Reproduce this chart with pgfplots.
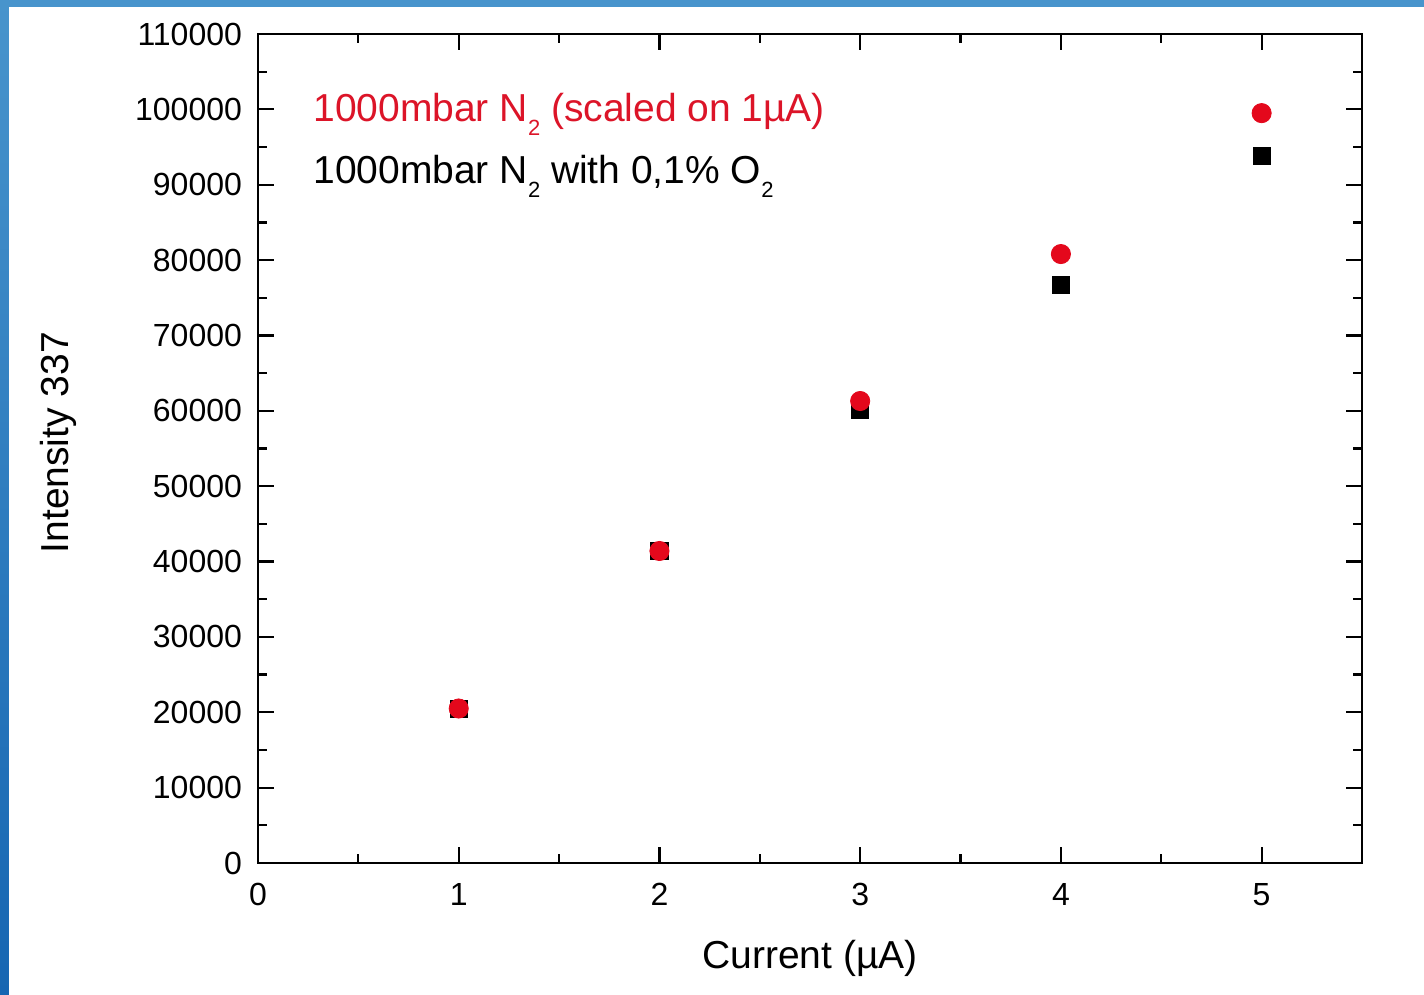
\documentclass[border=0pt]{standalone}
\usepackage{fontspec}
\setmainfont{Liberation Sans}
\usepackage{pgfplots}
\pgfplotsset{compat=1.18}

\definecolor{ptred}{RGB}{228,8,28}
\definecolor{legred}{RGB}{220,20,40}
\definecolor{frametop}{RGB}{72,148,204}
\definecolor{framebot}{RGB}{22,102,178}

\newcommand{\sub}[1]{\raisebox{-7pt}{\fontsize{11}{11}\selectfont #1}}

\begin{document}
\begin{tikzpicture}
% slide background with a blue edge on the left and top
\shade[top color=frametop, bottom color=framebot] (-129pt,-66pt) rectangle (583pt,431.5pt);
\fill[white] (-124.5pt,-66pt) rectangle (583pt,428pt);

\begin{axis}[
  at={(0,0)}, anchor=south west,
  scale only axis, width=552pt, height=414.5pt,
  xmin=0, xmax=5.5, ymin=0, ymax=110000,
  xtick={0,1,2,3,4,5},
  ytick={0,10000,...,110000},
  minor x tick num=1, minor y tick num=1,
  tick align=inside, tick pos=both,
  major tick length=8pt, minor tick length=4.5pt,
  every tick/.style={black, line width=1.1pt},
  axis line style={line width=1.4pt},
  scaled y ticks=false,
  yticklabel style={/pgf/number format/fixed, /pgf/number format/1000 sep={}, xshift=-4.5pt},
  xticklabel style={yshift=-6.5pt},
  /pgf/number format/assume math mode=true,
  tick label style={font=\fontsize{16}{18}\selectfont},
  label style={font=\fontsize{19.5}{23}\selectfont},
  xlabel={Current (µA)},
  ylabel={Intensity 337},
  xlabel style={at={(axis description cs:0.5,-0.1146)}, anchor=center},
  ylabel style={at={(axis description cs:-0.1812,0.507)}, anchor=center},
  clip=false,
]
% N2 with 0.1% O2
\addplot[only marks, mark=square*, mark size=4.3pt, black] coordinates {
  (1,20500) (2,41400) (3,60100) (4,76700) (5,93800)
};
% N2, scaled on 1 uA
\addplot[only marks, mark=*, mark size=4.8pt, ptred, mark options={draw=ptred, fill=ptred}] coordinates {
  (1,20500) (2,41400) (3,61300) (4,80800) (5,99500)
};

\node[anchor=base west, text=legred, font=\fontsize{19.5}{23}\selectfont, inner sep=0pt]
  at (axis cs:0.274,98330) {1000mbar N\sub{2} (scaled on 1µA)};
\node[anchor=base west, text=black, font=\fontsize{19.5}{23}\selectfont, inner sep=0pt]
  at (axis cs:0.274,90100) {1000mbar N\sub{2} with 0,1\% O\sub{2}};
\end{axis}
\end{tikzpicture}
\end{document}
